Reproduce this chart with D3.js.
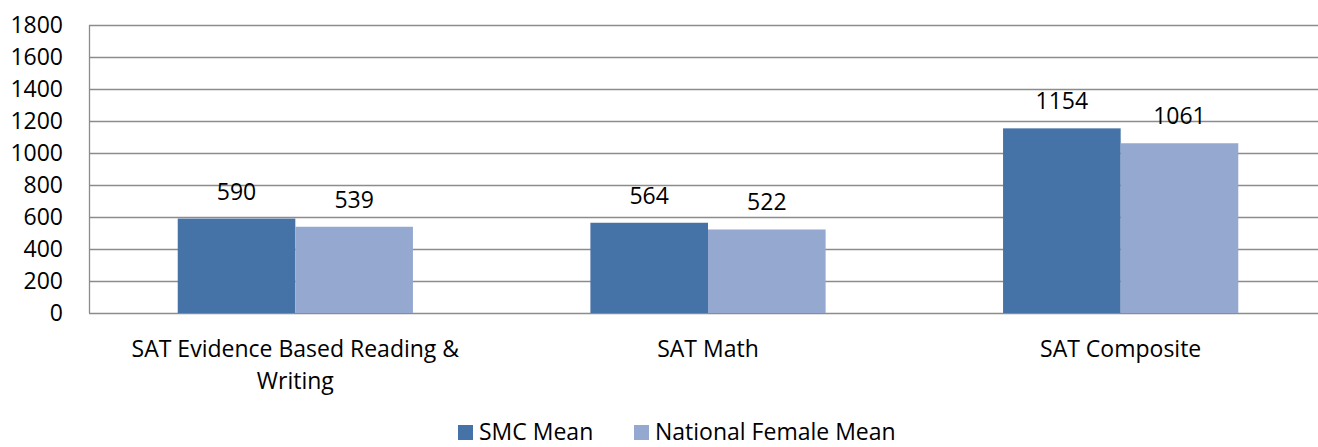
<!DOCTYPE html>
<html>
<head>
<meta charset="utf-8">
<script src="https://cdn.jsdelivr.net/npm/d3@7"></script>
<style>
  body { margin: 0; background: #fff; }
  svg { display: block; font-family: "Open Sans", Lato, sans-serif; }
</style>
</head>
<body>
<svg></svg>
<script>
const categories = [["SAT Evidence Based Reading &", "Writing"], ["SAT Math"], ["SAT Composite"]];
const seriesNames = ["SMC Mean", "National Female Mean"];
const smcMean = [590, 564, 1154];
const nationalFemaleMean = [539, 522, 1061];
const yTicks = [0, 200, 400, 600, 800, 1000, 1200, 1400, 1600, 1800];
const colors = ["#4572a7", "#95a9d0"];

const width = 1318, height = 447;
const margin = { left: 89, right: -9, top: 25, bottom: 134 };
const fontSize = 23;

const svg = d3.select("svg").attr("width", width).attr("height", height);

const x = d3.scaleBand()
  .domain(d3.range(categories.length))
  .range([margin.left, width - margin.right])
  .paddingInner(0.43)
  .paddingOuter(0.215);

const xs = d3.scaleBand()
  .domain(d3.range(seriesNames.length))
  .range([0, x.bandwidth()]);

const y = d3.scaleLinear().domain([0, 1800]).range([height - margin.bottom, margin.top]);

// grid
svg.append("g")
  .selectAll("line")
  .data(yTicks)
  .join("line")
  .attr("x1", margin.left)
  .attr("x2", width - margin.right)
  .attr("y1", d => Math.round(y(d)) + 0.5)
  .attr("y2", d => Math.round(y(d)) + 0.5)
  .attr("stroke", "#8c8c8c")
  .attr("stroke-width", 1.3);

svg.append("line")
  .attr("x1", margin.left + 0.5).attr("x2", margin.left + 0.5)
  .attr("y1", y(1800)).attr("y2", y(0))
  .attr("stroke", "#8c8c8c").attr("stroke-width", 1.3);

// y labels
svg.append("g")
  .selectAll("text")
  .data(yTicks)
  .join("text")
  .attr("x", 63)
  .attr("y", d => y(d))
  .attr("dy", "0.36em")
  .attr("text-anchor", "end")
  .attr("font-size", fontSize)
  .attr("fill", "#000")
  .text(d => d);

const series = [smcMean, nationalFemaleMean];

series.forEach((vals, si) => {
  const g = svg.append("g");
  g.selectAll("rect")
    .data(vals)
    .join("rect")
    .attr("x", (d, i) => x(i) + xs(si))
    .attr("y", d => y(d))
    .attr("width", xs.bandwidth())
    .attr("height", d => y(0) - y(d))
    .attr("fill", colors[si]);
  g.selectAll("text")
    .data(vals)
    .join("text")
    .attr("x", (d, i) => x(i) + xs(si) + xs.bandwidth() / 2)
    .attr("y", d => y(d) - 19)
    .attr("text-anchor", "middle")
    .attr("font-size", fontSize)
    .attr("fill", "#000")
    .text(d => d);
});

// category labels
const cat = svg.append("g")
  .selectAll("text")
  .data(categories)
  .join("text")
  .attr("x", (d, i) => x(i) + x.bandwidth() / 2)
  .attr("y", 357)
  .attr("text-anchor", "middle")
  .attr("font-size", fontSize)
  .attr("fill", "#000");
cat.selectAll("tspan")
  .data(d => d)
  .join("tspan")
  .attr("x", function () { return d3.select(this.parentNode).attr("x"); })
  .attr("dy", (d, i) => i === 0 ? 0 : 32)
  .text(d => d);

// legend
const legendX = [458, 634];
const leg = svg.append("g")
  .selectAll("g")
  .data(seriesNames)
  .join("g")
  .attr("transform", (d, i) => `translate(${legendX[i]},425)`);
leg.append("rect")
  .attr("width", 15).attr("height", 15)
  .attr("fill", (d, i) => colors[i]);
leg.append("text")
  .attr("x", 21)
  .attr("y", 15)
  .attr("font-size", fontSize)
  .attr("fill", "#000")
  .text(d => d);
</script>
</body>
</html>
